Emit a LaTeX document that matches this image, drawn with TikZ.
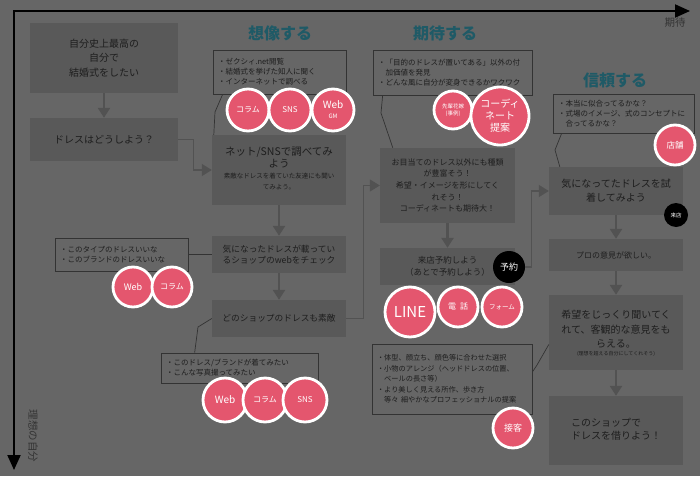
\documentclass[tikz,border=0pt]{standalone}
\usepackage{fontspec}
\setmainfont{Noto Sans CJK JP}
\usetikzlibrary{arrows.meta,calc}
\definecolor{bg}{HTML}{666666}
\definecolor{boxc}{HTML}{595959}
\definecolor{txt}{HTML}{1E1E1E}
\definecolor{headc}{HTML}{1F5A66}
\definecolor{pinkc}{HTML}{E4566E}
\definecolor{arrc}{HTML}{525252}
\definecolor{lnc}{HTML}{333333}
\newcommand{\cstack}[1]{\begin{tabular}{@{}c@{}}#1\end{tabular}}
\begin{document}
\begin{tikzpicture}[x=1pt,y=-1pt,
  flowbox/.style={rectangle,fill=boxc,text=txt,align=center,inner sep=0pt},
  notebox/.style={rectangle,draw=lnc,line width=0.7pt,text=txt,align=left,inner xsep=5pt,inner ysep=0pt,font=\fontsize{7.5}{10}\selectfont},
  downarr/.style={draw=arrc,line width=2.6pt,-{Triangle[width=12pt,length=10pt]}},
  sidearr/.style={draw=arrc,line width=1.3pt,-{Triangle[width=12pt,length=10pt]}},
  noteline/.style={draw=lnc,line width=0.7pt},
  bubble/.style={circle,fill=pinkc,draw=white,line width=2.8pt,text=white,align=center,inner sep=0pt},
  blackdot/.style={circle,fill=black,text=white,align=center,inner sep=0pt},
  heading/.style={text=headc,font=\fontsize{16}{18}\selectfont\bfseries}]
\fill[bg] (0,0) rectangle (700,476);
\useasboundingbox (0,0) rectangle (700,476);

% axes
\coordinate (o) at (14,11);
\coordinate (xe) at (690,11);
\coordinate (ye) at (14,470);
\draw[line width=2pt,{Triangle[width=13pt,length=15pt]}-{Triangle[width=13pt,length=15pt]}] (ye) -- (o) -- (xe);
\node[text=lnc,font=\fontsize{10.5}{11}\selectfont] (lx) at (675,23) {期待};
\node[text=lnc,font=\fontsize{10.5}{11}\selectfont,rotate=-90] (ly) at (33,436) {理想の自分};

% headings
\node[heading] (h1) at (280,33) {想像する};
\node[heading] (h2) at (445,33) {期待する};
\node[heading] (h3) at (615,80) {信頼する};

% flow boxes
\node[flowbox,minimum width=148pt,minimum height=70pt,font=\fontsize{10}{14.4}\selectfont] (b1) at (104,58) {自分史上最高の\\自分で\\結婚式をしたい};
\node[flowbox,minimum width=148pt,minimum height=43pt,font=\fontsize{10}{12}\selectfont] (b2) at (104,139.5) {ドレスはどうしよう？};
\node[flowbox,minimum width=134pt,minimum height=70pt] (b3) at (279,170) {{\fontsize{10.5}{12}\selectfont\cstack{ネット/SNSで調べてみ\\よう}}\\[-1pt]{\fontsize{6.5}{11}\selectfont\cstack{素敵なドレスを着ていた友達にも聞い\\てみよう。}}};
\node[flowbox,minimum width=134pt,minimum height=37pt,font=\fontsize{8.7}{11.5}\selectfont] (b4) at (279,254.5) {気になったドレスが載ってい\\るショップのwebをチェック};
\node[flowbox,minimum width=134pt,minimum height=37pt,font=\fontsize{8.7}{11.5}\selectfont] (b5) at (279,318.5) {どのショップのドレスも素敵};
\node[flowbox,minimum width=135pt,minimum height=75pt,font=\fontsize{8}{11.7}\selectfont] (b6) at (447.5,185.5) {お目当てのドレス以外にも種類\\が豊富そう！\\希望・イメージを形にしてく\\れそう！\\コーディネートも期待大！};
\node[flowbox,minimum width=135pt,minimum height=37pt,font=\fontsize{8.5}{12.5}\selectfont] (b7) at (447.5,266.5) {来店予約しよう\\（あとで予約しよう）};
\node[flowbox,minimum width=134pt,minimum height=48pt,font=\fontsize{10}{14}\selectfont] (b8) at (616,191) {気になってたドレスを試\\着してみよう};
\node[flowbox,minimum width=134pt,minimum height=32pt,font=\fontsize{8}{10}\selectfont] (b9) at (616,255) {プロの意見が欲しい。};
\node[flowbox,minimum width=134pt,minimum height=75pt] (b10) at (616,332.5) {{\fontsize{10}{14.5}\selectfont\cstack{希望をじっくり聞いてく\\れて、客観的な意見をも\\らえる。}}\\[-2pt]{\fontsize{5}{8}\selectfont (理想を超える自分にしてくれそう)}};
\node[flowbox,minimum width=134pt,minimum height=69pt,font=\fontsize{10}{12.5}\selectfont] (b11) at (616,430.5) {\begin{tabular}{@{}l@{}}このショップで\\ドレスを借りよう！\end{tabular}};

% down arrows
\draw[downarr] (b1) -- (b2);
\draw[downarr] (b3) -- (b4);
\draw[downarr] (b4) -- (b5);
\draw[downarr] (b6) -- (b7);
\draw[downarr] (b8) -- (b9);
\draw[downarr] (b9) -- (b10);
\draw[downarr] (b10) -- (b11);

% note boxes
\node[notebox,minimum width=133pt,minimum height=44pt,text width=123pt] (n1) at (279.5,72) {・ゼクシィ.net閲覧\\・結婚式を挙げた知人に聞く\\・インターネットで調べる};
\node[notebox,minimum width=159pt,minimum height=45pt,text width=149pt] (n2) at (452.5,72.5) {・「目的のドレスが置いてある」以外の付\\\phantom{・}加価値を発見\\・どんな風に自分が変身できるかワクワク};
\node[notebox,minimum width=141pt,minimum height=39pt,text width=131pt] (n3) at (623.5,113.5) {・本当に似合ってるかな？\\・式場のイメージ、式のコンセプトに\\\phantom{・}合ってるかな？};
\node[notebox,minimum width=133pt,minimum height=33pt,text width=123pt] (n4) at (121.5,254.5) {・このタイプのドレスいいな\\・このブランドのドレスいいな};
\node[notebox,minimum width=157pt,minimum height=30pt,text width=147pt] (n5) at (239.5,368) {・このドレス/ブランドが着てみたい\\・こんな写真撮ってみたい};
\node[notebox,minimum width=160pt,minimum height=70pt,text width=150pt,font=\fontsize{7.2}{10.5}\selectfont] (n6) at (452,379) {・体型、顔立ち、顔色等に合わせた選択\\・小物のアレンジ（ヘッドドレスの位置、\\\phantom{・}ベールの長さ等）\\・より美しく見える所作、歩き方\\\phantom{・}等々 細やかなプロフェッショナルの提案};

% note connectors
\draw[noteline] ($(n1.south west)+(10,0)$) -- (215,112) -- ($(b3.north west)+(2,0)$);
\draw[noteline] ($(n2.south west)+(10,0)$) -- (381,113) -- ($(b6.north west)+(13,0)$);
\draw[noteline] ($(n3.south west)+(9,0)$) -- (555,150) -- ($(b8.north west)+(11,0)$);
\draw[noteline] (n4.east) -- (b4.west);
\draw[noteline] ($(n5.north west)+(34,0)$) -- (198,327) -- (b5.west);
\draw[noteline] ($(n6.east)+(0,-7)$) -- (537,365) -- ($(b10.west)+(0,12)$);

% black dots
\node[blackdot,minimum size=32pt,font=\fontsize{9}{10}\selectfont] (yk) at (509,267) {予約};
\node[blackdot,minimum size=24pt,font=\fontsize{5.5}{6}\selectfont] (rt) at (676,215) {来店};

% side arrows
\draw[sidearr] (b2.east) -- ++(15,0) |- (b3.west);
\draw[sidearr] (b5.east) -- ++(17,0) |- (b6.west);
\draw[sidearr] (yk.east) -- ++(6,0) |- (b8.west);

% bubbles
\node[bubble,minimum size=42pt,font=\fontsize{8}{9}\selectfont] (c1) at (248,110) {コラム};
\node[bubble,minimum size=42pt,font=\fontsize{8}{9}\selectfont] (c2) at (290,110) {SNS};
\node[bubble,minimum size=42pt] (c3) at (333,110) {{\fontsize{10}{11}\selectfont Web}\\[-2pt]{\fontsize{6}{7}\selectfont GM}};
\node[bubble,minimum size=38pt,font=\fontsize{5.5}{7}\selectfont] (c4) at (453,110) {先輩花嫁\\(事例)};
\node[bubble,minimum size=58pt,font=\fontsize{10}{12}\selectfont] (c5) at (500,116) {コーディ\\ネート\\提案};
\node[bubble,minimum size=40pt,font=\fontsize{8.5}{9}\selectfont] (c6) at (675,145) {店舗};
\node[bubble,minimum size=40pt,font=\fontsize{9}{10}\selectfont] (c7) at (133,287) {Web};
\node[bubble,minimum size=40pt,font=\fontsize{8}{9}\selectfont] (c8) at (172,287) {コラム};
\node[bubble,minimum size=50pt,font=\fontsize{15}{16}\selectfont] (c9) at (410,312) {LINE};
\node[bubble,minimum size=40pt,font=\fontsize{8}{9}\selectfont] (c10) at (458,307) {電\hspace{4pt}話};
\node[bubble,minimum size=40pt,font=\fontsize{6.5}{7}\selectfont] (c11) at (502,307) {フォーム};
\node[bubble,minimum size=44pt,font=\fontsize{10}{11}\selectfont] (c12) at (225,400) {Web};
\node[bubble,minimum size=44pt,font=\fontsize{8}{9}\selectfont] (c13) at (265,400) {コラム};
\node[bubble,minimum size=44pt,font=\fontsize{8}{9}\selectfont] (c14) at (305,400) {SNS};
\node[bubble,minimum size=40pt,font=\fontsize{9}{10}\selectfont] (c15) at (513,428) {接客};
\end{tikzpicture}
\end{document}
